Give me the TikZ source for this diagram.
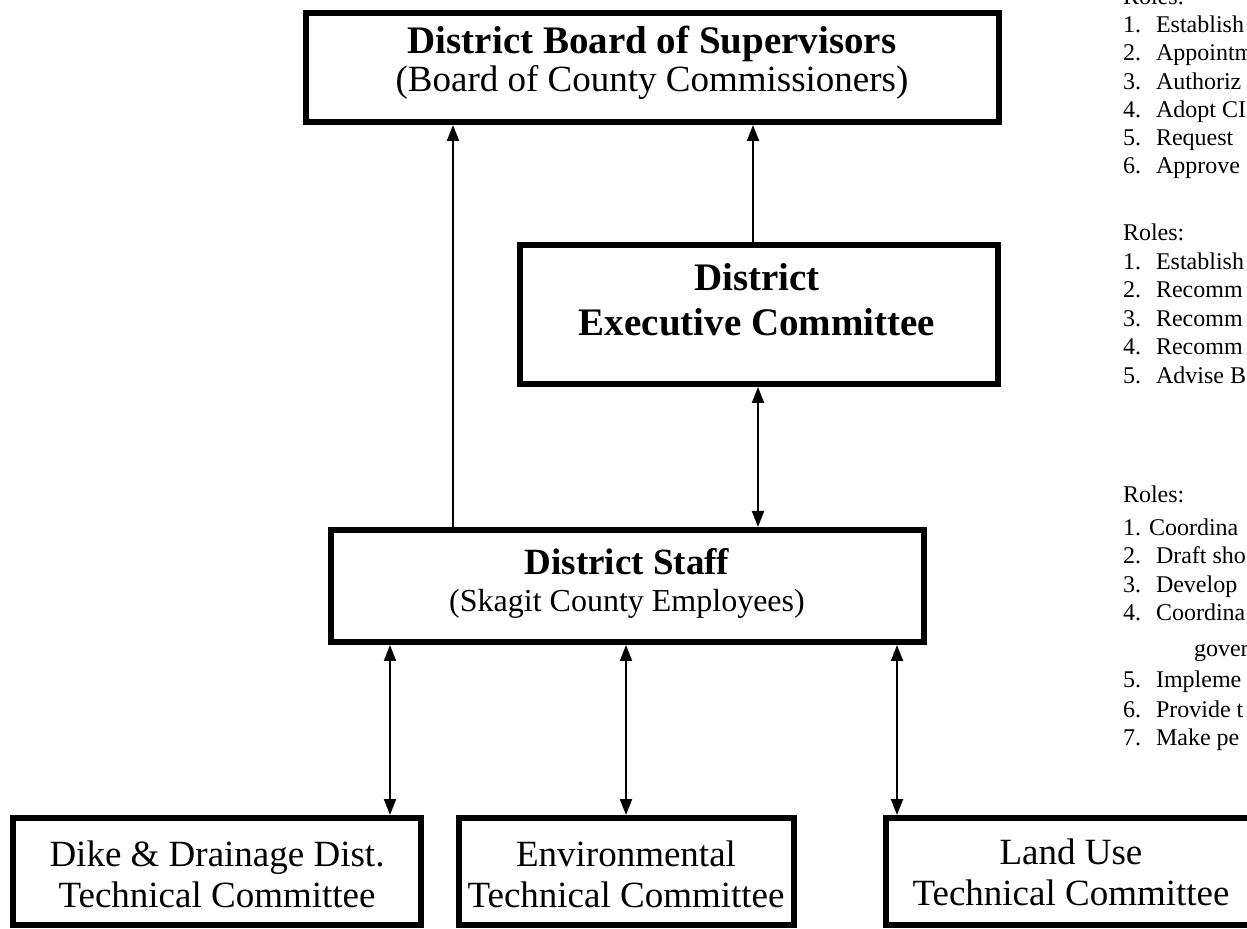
\documentclass[tikz,border=0pt]{standalone}
\usepackage{fontspec}
\setmainfont{Liberation Serif}
\usetikzlibrary{arrows.meta}

\begin{document}
\begin{tikzpicture}[x=0.5pt,y=-0.5pt,>={Triangle[length=8pt,width=6pt]},line width=1pt,
    box/.style={draw,line width=3pt,inner sep=0pt},
    ttl/.style={anchor=base,inner sep=0pt,font=\bfseries\fontsize{18.5}{22}\selectfont},
    bigttl/.style={ttl,font=\bfseries\fontsize{19.5}{23}\selectfont},
    sub/.style={anchor=base,inner sep=0pt,font=\fontsize{16}{19}\selectfont},
    tech/.style={anchor=base,inner sep=0pt,font=\fontsize{18.5}{22}\selectfont},
    role/.style={anchor=base west,inner sep=0pt,font=\fontsize{12}{14}\selectfont}]
  \useasboundingbox (0,0) rectangle (1247,929);

  % boxes
  \node[box,minimum width=346.5pt,minimum height=54.5pt] (board) at (652.5,67.5) {};
  \node[box,minimum width=239pt,minimum height=69.5pt] (exec) at (759,314.5) {};
  \node[box,minimum width=296.5pt,minimum height=56pt] (staff) at (627.5,586) {};
  \node[box,minimum width=204pt,minimum height=53.5pt] (dike) at (217,871.5) {};
  \node[box,minimum width=167.5pt,minimum height=53.5pt] (env) at (626.5,871.5) {};
  \node[box,minimum width=186.5pt,minimum height=53.5pt] (land) at (1072.5,871.5) {};

  \node[bigttl] (boardttl) at (652,54) {District Board of Supervisors};
  \node[tech] (boardsub) at (652,92) {(Board of County Commissioners)};
  \node[bigttl] (execttl) at (757,291) {District};
  \node[bigttl] (execsub) at (757,336) {Executive Committee};
  \node[ttl] (staffttl) at (627,575) {District Staff};
  \node[sub] (staffsub) at (627,612) {(Skagit County Employees)};
  \node[tech] (dikettl) at (217,866) {Dike \& Drainage Dist.};
  \node[tech] (dikesub) at (217,907) {Technical Committee};
  \node[tech] (envttl) at (626,866) {Environmental};
  \node[tech] (envsub) at (626,907) {Technical Committee};
  \node[tech] (landttl) at (1071,864) {Land Use};
  \node[tech] (landsub) at (1071,905) {Technical Committee};

  % connectors
  \coordinate (ua) at (453,0);
  \coordinate (ub) at (753,0);
  \coordinate (uc) at (758,0);
  \coordinate (da) at (390,0);
  \coordinate (db) at (626,0);
  \coordinate (dc) at (897,0);
  \draw[->] (staff.north -| ua) -- (board.south -| ua);
  \draw[->] (exec.north -| ub) -- (board.south -| ub);
  \draw[<->] (exec.south -| uc) -- (staff.north -| uc);
  \draw[<->] (staff.south -| da) -- (dike.north -| da);
  \draw[<->] (staff.south -| db) -- (env.north -| db);
  \draw[<->] (staff.south -| dc) -- (land.north -| dc);

  % roles
  \foreach \y/\t [count=\i] in {5/Roles:,
      33/\makebox[16.5pt][l]{1.}Establish, 61/\makebox[16.5pt][l]{2.}Appointm,
      90/\makebox[16.5pt][l]{3.}Authoriz, 118/\makebox[16.5pt][l]{4.}Adopt CI,
      146/\makebox[16.5pt][l]{5.}Request, 174/\makebox[16.5pt][l]{6.}Approve,
      241/Roles:,
      270/\makebox[16.5pt][l]{1.}Establish, 298/\makebox[16.5pt][l]{2.}Recomm,
      327/\makebox[16.5pt][l]{3.}Recomm, 355/\makebox[16.5pt][l]{4.}Recomm,
      384/\makebox[16.5pt][l]{5.}Advise B,
      503/Roles:,
      536/\makebox[13pt][l]{1.}Coordina, 564/\makebox[16.5pt][l]{2.}Draft sho,
      593/\makebox[16.5pt][l]{3.}Develop, 621/\makebox[16.5pt][l]{4.}Coordina,
      688/\makebox[16.5pt][l]{5.}Impleme, 718/\makebox[16.5pt][l]{6.}Provide t,
      746/\makebox[16.5pt][l]{7.}Make pe}
    \node[role] (role\i) at (1122,\y) {\t};
  \node[role] (rolegov) at (1193,657) {gover};
\end{tikzpicture}
\end{document}
